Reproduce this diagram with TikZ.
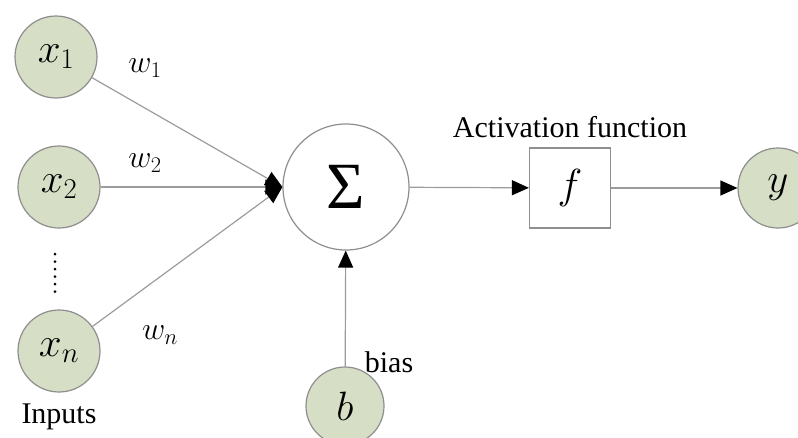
\RequirePackage{fix-cm}
\documentclass[tikz,border=0pt]{standalone}
\usepackage{fontspec}
\setmainfont{Liberation Serif}
\usetikzlibrary{
  arrows.meta,
  positioning
}
\definecolor{unitfill}{HTML}{D6DEC5}
\definecolor{unitline}{HTML}{8E8E8E}
\definecolor{linkgrey}{HTML}{9C9C9C}
\tikzset{
  unit/.style={
    circle, draw=unitline, fill=unitfill, line width=1.2pt,
    minimum size=#1, inner sep=0pt,
    font=\fontsize{41}{46}\selectfont
  },
  unit/.default=82pt,
  sumnode/.style={
    circle, draw=unitline, fill=white, line width=1.2pt,
    minimum size=126pt, inner sep=0pt,
    font=\fontsize{66}{72}\selectfont
  },
  actbox/.style={
    rectangle, draw=unitline, fill=white, line width=1.2pt,
    minimum width=81pt, minimum height=80pt,
    font=\fontsize{42}{48}\selectfont
  },
  link/.style={
    -{Triangle[length=17pt,width=15pt,black]}, line width=1.2pt, draw=linkgrey
  },
  weight/.style={
    font=\fontsize{32}{36}\selectfont
  },
  annot/.style={
    font=\fontsize{30}{36}\selectfont
  },
}

\begin{document}
\begin{tikzpicture}[x=1pt, y=-1pt]
  \clip (0,0) rectangle (798,437);
  \fill[white] (0,0) rectangle (798,437);

  % inputs
  \node[unit] (x1) at (56,57)  {$x_1$};
  \node[unit] (x2) at (59,187) {$x_2$};
  \node[unit] (xn) at (59,351) {$x_n$};
  \draw[line width=3pt, line cap=round, dash pattern=on 0pt off 7.5pt]
    (55,254) -- (55,292);
  \node[annot] (inp) at (59,417) {Inputs};

  % summation and activation
  \node[sumnode] (sum) at (346,187) {Σ};
  \node[actbox] (f) at (570,188) {$f$};
  \node[unit=80pt] (y) at (778,188) {$y$};
  \node[unit=78pt] (b) at (345,406) {$b$};

  \draw[link] (x1) -- (sum.west);
  \draw[link] (x2) -- (sum.west);
  \draw[link] (xn) -- (sum.west);
  \draw[link] (sum) -- (f);
  \draw[link] (f) -- (y);
  \draw[link] (b) -- (sum);

  \node[weight] (w1) at (145,68)  {$w_1$};
  \node[weight] (w2) at (145,163) {$w_2$};
  \node[weight] (wn) at (160,335) {$w_n$};
  \node[annot] (act) at (570,127) {Activation function};
  \node[annot] (bias) at (389,362) {bias};
\end{tikzpicture}
\end{document}
